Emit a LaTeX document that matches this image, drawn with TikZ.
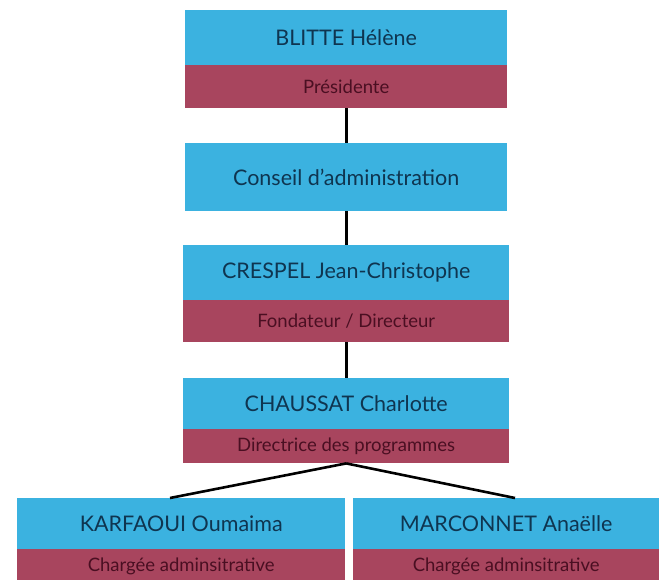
\documentclass[tikz,border=0pt]{standalone}
\usepackage{fontspec}
\setmainfont{Lato}
\definecolor{boxblue}{HTML}{3BB2E0}
\definecolor{boxred}{HTML}{A8455E}
\definecolor{txtblue}{HTML}{0F3550}
\definecolor{txtred}{HTML}{4A0F22}
\begin{document}
\begin{tikzpicture}[x=1pt,y=-1pt,
  namebox/.style={fill=boxblue,draw=none,inner sep=0pt,anchor=north west,text=txtblue,font=\fontsize{21.5}{24}\selectfont},
  rolebox/.style={fill=boxred,draw=none,inner sep=0pt,anchor=north west,text=txtred,font=\fontsize{18.5}{21}\selectfont},
  link/.style={draw=black,line width=2.6pt}]
\useasboundingbox (0,0) rectangle (659,580);
% top
\node[namebox,minimum width=322pt,minimum height=55pt] (blitte) at (185,10) {BLITTE Hélène};
\node[rolebox,minimum width=322pt,minimum height=43pt] (pres) at (185,65) {Présidente};
% conseil
\node[namebox,minimum width=322pt,minimum height=68pt] (conseil) at (185,143) {Conseil d’administration};
% crespel
\node[namebox,minimum width=326pt,minimum height=55pt] (crespel) at (183,245) {CRESPEL Jean-Christophe};
\node[rolebox,minimum width=326pt,minimum height=42pt] (fond) at (183,300) {Fondateur / Directeur};
% chaussat
\node[namebox,minimum width=326pt,minimum height=51pt] (chaussat) at (183,378) {CHAUSSAT Charlotte};
\node[rolebox,minimum width=326pt,minimum height=34pt] (dir) at (183,429) {Directrice des programmes};
% bottom
\node[namebox,minimum width=328pt,minimum height=51pt] (karf) at (17,498) {KARFAOUI Oumaima};
\node[rolebox,minimum width=328pt,minimum height=34pt] (karfr) at (17,549) {Chargée adminsitrative};
\node[namebox,minimum width=306pt,minimum height=51pt] (marc) at (353,498) {MARCONNET Anaëlle};
\node[rolebox,minimum width=306pt,minimum height=34pt] (marcr) at (353,549) {Chargée adminsitrative};
% connectors
\draw[link] (pres.south) -- (conseil.north);
\draw[link] (conseil.south) -- (crespel.north);
\draw[link] (fond.south) -- (chaussat.north);
\coordinate (kend) at (170,498);
\coordinate (mend) at (515,498);
\draw[link] (dir.south) -- (kend);
\draw[link] (dir.south) -- (mend);
\end{tikzpicture}
\end{document}
